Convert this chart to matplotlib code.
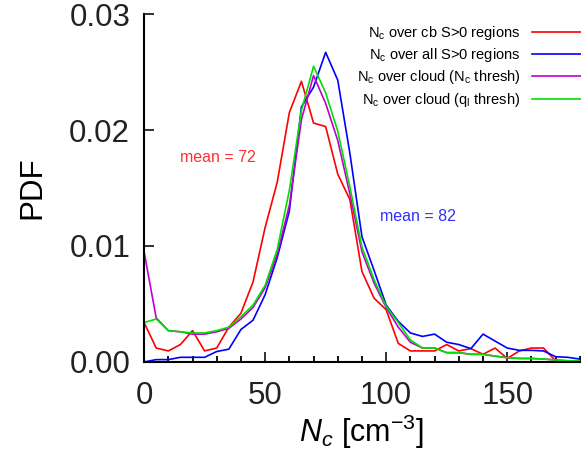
import numpy as np
import matplotlib
matplotlib.use('Agg')
import matplotlib.pyplot as plt

plt.rcParams['font.family'] = ['Liberation Sans', 'DejaVu Sans']
plt.rcParams['mathtext.fontset'] = 'custom'
plt.rcParams['mathtext.rm'] = 'Liberation Sans'
plt.rcParams['mathtext.it'] = 'Liberation Sans:italic'

# bin centres, every 5 cm^-3
nc = np.arange(0, 185, 5)

pdf_cb = [0.0034, 0.0012, 0.00095, 0.0015, 0.0027, 0.00095, 0.0012, 0.0030, 0.0042, 0.0069,
          0.0116, 0.0155, 0.0215, 0.0242, 0.0206, 0.0203, 0.0162, 0.0140, 0.0078, 0.0055,
          0.0045, 0.0016, 0.00095, 0.00095, 0.00095, 0.0015, 0.00095, 0.00115, 0.00066, 0.0012,
          0.0003, 0.00095, 0.0012, 0.0012, 0.0001, 0.0, 0.0]
pdf_all = [0.0, 0.0002, 0.0002, 0.0004, 0.0004, 0.0004, 0.0009, 0.0011, 0.0028, 0.0036,
           0.0058, 0.0090, 0.0130, 0.0220, 0.0237, 0.0267, 0.0243, 0.0180, 0.0108, 0.0079,
           0.0049, 0.0035, 0.0025, 0.0022, 0.0024, 0.0017, 0.0015, 0.00115, 0.0024, 0.0018,
           0.0012, 0.0010, 0.0010, 0.00095, 0.00045, 0.0004, 0.00025]
pdf_nthr = [0.0095, 0.0038, 0.0027, 0.0026, 0.0024, 0.0024, 0.0026, 0.0029, 0.0037, 0.0047,
            0.0064, 0.0093, 0.0135, 0.0209, 0.0247, 0.0223, 0.0191, 0.0145, 0.0095, 0.0068,
            0.0047, 0.0030, 0.0017, 0.0012, 0.0012, 0.0008, 0.0008, 0.00066, 0.00066, 0.0005,
            0.00037, 0.0003, 0.0003, 0.00025, 0.00017, 0.0001, 0.0001]
pdf_qthr = [0.0034, 0.0037, 0.0027, 0.0026, 0.0025, 0.0025, 0.0027, 0.0030, 0.0039, 0.0049,
            0.0066, 0.0097, 0.0148, 0.0217, 0.0255, 0.0232, 0.0199, 0.0151, 0.0099, 0.0071,
            0.0048, 0.0034, 0.0019, 0.0012, 0.0012, 0.0008, 0.0008, 0.00066, 0.00066, 0.0005,
            0.00037, 0.0003, 0.0003, 0.00025, 0.00017, 0.0001, 0.0001]

labels = [r'N$_\mathrm{c}$ over cb S>0 regions',
          r'N$_\mathrm{c}$ over all S>0 regions',
          r'N$_\mathrm{c}$ over cloud (N$_\mathrm{c}$ thresh)',
          r'N$_\mathrm{c}$ over cloud (q$_\mathrm{l}$ thresh)']
colors = ['#ff0000', '#0000ff', '#c000d0', '#00e000']

fig = plt.figure(figsize=(5.81, 4.53), dpi=100)
ax = fig.add_axes([0.248, 0.201, 0.75, 0.768])

for y, lab, c in zip([pdf_cb, pdf_all, pdf_nthr, pdf_qthr], labels, colors):
    ax.plot(nc, y, color=c, lw=1.2, label=lab)

ax.text(15, 0.0176, 'mean = 72', color='#ff3030', fontsize=11.5, va='center')
ax.text(97.5, 0.0125, 'mean = 82', color='#3030ff', fontsize=11.5, va='center')

ax.set_xlim(0, 180)
ax.set_ylim(0, 0.03)
ax.set_xticks([0, 50, 100, 150])
ax.set_xticks(np.arange(0, 181, 10), minor=True)
ax.set_yticks([0, 0.01, 0.02, 0.03])
ax.set_yticklabels(['0.00', '0.01', '0.02', '0.03'])
ax.tick_params(which='major', direction='in', length=7, width=1.3, labelsize=22.5, colors='#222222')
ax.tick_params(which='minor', direction='in', length=4, width=1.3)
ax.tick_params(axis='x', pad=14)
ax.tick_params(axis='y', pad=10)
for s in ['top', 'right']:
    ax.spines[s].set_visible(False)
for s in ['left', 'bottom']:
    ax.spines[s].set_linewidth(1.5)

ax.set_xlabel(r'$N_c$ [cm$^{-3}$]', fontsize=22, labelpad=1)
ax.set_ylabel('PDF', fontsize=22.5, labelpad=16)

ax.legend(loc='upper right', frameon=False, markerfirst=False, fontsize=10.5,
          handlelength=3.4, handletextpad=0.8, labelspacing=0.3,
          borderaxespad=0.0, borderpad=0.3, bbox_to_anchor=(1.014, 0.985))

fig.savefig('out.png', dpi=100)
